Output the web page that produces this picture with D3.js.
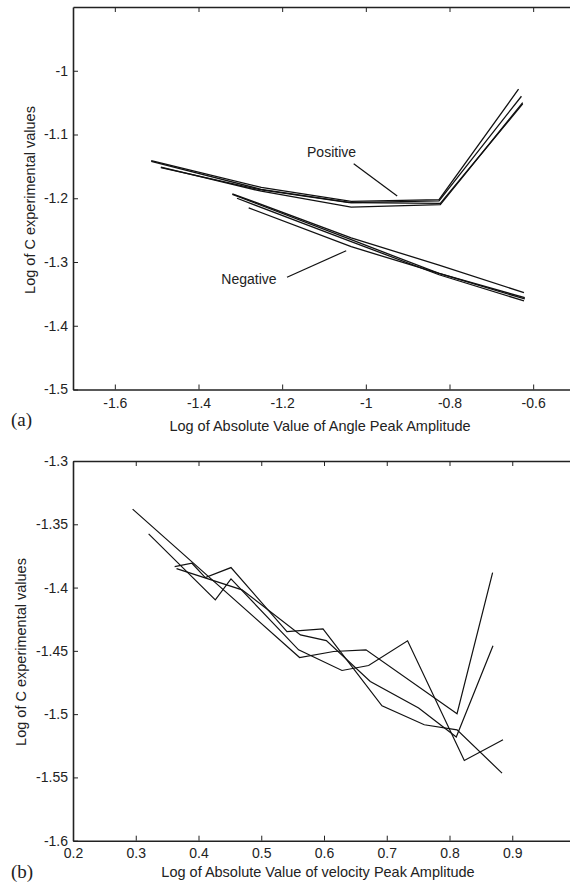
<!DOCTYPE html>
<html>
<head>
<meta charset="utf-8">
<script src="https://cdn.jsdelivr.net/npm/d3@7/dist/d3.min.js"></script>
<style>
  html, body { margin: 0; padding: 0; background: #fff; }
  svg { display: block; }
  text { font-family: "Liberation Sans", Arial, Helvetica, sans-serif; fill: #222; }
  .lbl { font-family: "Liberation Serif", "Times New Roman", serif; }
</style>
</head>
<body>
<div class="graph"></div>
<script>
// ---- data (a): angle peak amplitude ----
const angleTicksX = [-1.6, -1.4, -1.2, -1, -0.8, -0.6];
const angleTicksY = [-1.5, -1.4, -1.3, -1.2, -1.1, -1];

const positive1 = [[-1.513, -1.141], [-1.25, -1.183], [-1.035, -1.205], [-0.825, -1.202], [-0.635, -1.029]];
const positive2 = [[-1.513, -1.142], [-1.25, -1.186], [-1.035, -1.207], [-0.825, -1.204], [-0.628, -1.040]];
const positive3 = [[-1.490, -1.151], [-1.25, -1.189], [-1.035, -1.214], [-0.822, -1.210], [-0.625, -1.050]];
const positive4 = [[-1.490, -1.152], [-1.25, -1.187], [-1.040, -1.207], [-0.822, -1.208], [-0.625, -1.052]];

const negative1 = [[-1.319, -1.193], [-1.035, -1.262], [-0.825, -1.305], [-0.622, -1.348]];
const negative2 = [[-1.319, -1.194], [-1.035, -1.265], [-0.825, -1.318], [-0.620, -1.356]];
const negative3 = [[-1.308, -1.200], [-1.035, -1.268], [-0.825, -1.320], [-0.622, -1.361]];
const negative4 = [[-1.280, -1.215], [-1.035, -1.276], [-0.825, -1.318], [-0.620, -1.358]];

// annotation text anchors and pointer lines (data coords)
const posLabel = { text: 'Positive', at: [-1.1406, -1.1355], line: [[-1.029, -1.146], [-0.925, -1.1966]] };
const negLabel = { text: 'Negative', at: [-1.3455, -1.3347], line: [[-1.1884, -1.324], [-1.047, -1.2823]] };

// ---- data (b): velocity peak amplitude ----
const velTicksX = [0.2, 0.3, 0.4, 0.5, 0.6, 0.7, 0.8, 0.9];
const velTicksY = [-1.6, -1.55, -1.5, -1.45, -1.4, -1.35, -1.3];

const velocity1 = [[0.295, -1.338], [0.5611, -1.4553], [0.6153, -1.4505], [0.6669, -1.4492], [0.812, -1.4997], [0.8687, -1.3882]];
const velocity2 = [[0.3205, -1.3576], [0.4268, -1.4097], [0.4518, -1.3932], [0.5595, -1.4492], [0.6287, -1.4655],
                   [0.6711, -1.4616], [0.7332, -1.4421], [0.8236, -1.5366], [0.8853, -1.5203]];
const velocity3 = [[0.362, -1.3834], [0.3896, -1.3808], [0.4108, -1.3921], [0.4518, -1.3842], [0.541, -1.4348],
                   [0.5984, -1.4326], [0.6924, -1.4934], [0.7598, -1.5084], [0.812, -1.5124], [0.8837, -1.5466]];
const velocity4 = [[0.365, -1.385], [0.4694, -1.4018], [0.5625, -1.4374], [0.6037, -1.4419], [0.6738, -1.4742],
                   [0.7508, -1.4952], [0.8108, -1.5181], [0.8693, -1.446]];

const W = 570, H = 885;
const svg = d3.select('.graph').append('svg').attr('width', W).attr('height', H);

const fmt = d => String(+d.toFixed(2));

function panel(cfg) {
    const x = d3.scaleLinear().domain(cfg.xDom).range([cfg.left, cfg.right]);
    const y = d3.scaleLinear().domain(cfg.yDom).range([cfg.bottom, cfg.top]);
    const g = svg.append('g');

    // axes (ticks point inward)
    const styleAxis = sel => {
        sel.selectAll('path, line').attr('stroke', '#222');
        sel.select('.domain').attr('stroke-width', 1.6);
        sel.selectAll('text').style('font-size', '14px').attr('fill', '#222')
            .style('font-family', '"Liberation Sans", Arial, sans-serif');
    };
    g.append('g').attr('transform', `translate(0,${cfg.bottom})`)
        .call(d3.axisBottom(x).tickValues(cfg.xTicks).tickSize(-5).tickSizeOuter(0).tickPadding(cfg.xPad).tickFormat(fmt))
        .call(styleAxis);
    g.append('g').attr('transform', `translate(0,${cfg.top})`)
        .call(d3.axisTop(x).tickValues(cfg.xTicks).tickSize(-5).tickSizeOuter(0).tickFormat(''))
        .call(styleAxis);
    g.append('g').attr('transform', `translate(${cfg.left},0)`)
        .call(d3.axisLeft(y).tickValues(cfg.yTicks).tickSize(-5).tickSizeOuter(0).tickPadding(5).tickFormat(fmt))
        .call(styleAxis);
    if (cfg.rightTicks) {
        g.append('g').attr('transform', `translate(${cfg.right},0)`)
            .call(d3.axisRight(y).tickValues(cfg.yTicks).tickSize(-5).tickSizeOuter(0).tickFormat(''))
            .call(styleAxis);
    }

    const line = d3.line().x(d => x(d[0])).y(d => y(d[1]));
    g.selectAll('path.series').data(cfg.series).enter().append('path')
        .attr('class', 'series')
        .attr('d', line)
        .attr('fill', 'none')
        .attr('stroke', '#111')
        .attr('stroke-width', cfg.lineW)
        .attr('stroke-linejoin', 'miter');

    (cfg.notes || []).forEach(n => {
        g.append('text').attr('x', x(n.at[0])).attr('y', y(n.at[1]))
            .style('font-size', '14px').text(n.text);
        g.append('path').attr('d', line(n.line)).attr('stroke', '#111').attr('stroke-width', 1.2);
    });

    // axis titles
    g.append('text').attr('x', cfg.xTitlePos[0]).attr('y', cfg.xTitlePos[1])
        .attr('text-anchor', 'middle').style('font-size', '14.5px').text(cfg.xTitle);
    g.append('text').attr('transform', `translate(${cfg.yTitlePos[0]},${cfg.yTitlePos[1]}) rotate(-90)`)
        .attr('text-anchor', 'middle').attr('dy', '0.35em').style('font-size', '14.5px').text(cfg.yTitle);
    g.append('text').attr('class', 'lbl').attr('x', 11).attr('y', cfg.tagY)
        .style('font-size', '19px').text(cfg.tag);
}

panel({
    xDom: [-1.7, -0.5], yDom: [-1.5, -0.9],
    left: 73, right: 575, top: 7, bottom: 389.5,
    xTicks: angleTicksX, yTicks: angleTicksY, xPad: 9,
    series: [positive1, positive2, positive3, positive4, negative1, negative2, negative3, negative4],
    lineW: 1.3,
    notes: [posLabel, negLabel],
    xTitle: 'Log of Absolute Value of Angle Peak Amplitude', xTitlePos: [320, 431],
    yTitle: 'Log of C experimental values', yTitlePos: [30, 200],
    tag: '(a)', tagY: 426
});

panel({
    xDom: [0.2, 1.0], yDom: [-1.6, -1.3],
    left: 73, right: 575, top: 461, bottom: 840.7,
    xTicks: velTicksX, yTicks: velTicksY, xPad: 7, rightTicks: true,
    series: [velocity1, velocity2, velocity3, velocity4],
    lineW: 1.2,
    xTitle: 'Log of Absolute Value of velocity Peak Amplitude', xTitlePos: [318, 877],
    yTitle: 'Log of C experimental values', yTitlePos: [21, 652],
    tag: '(b)', tagY: 878
});
</script>
</body>
</html>
